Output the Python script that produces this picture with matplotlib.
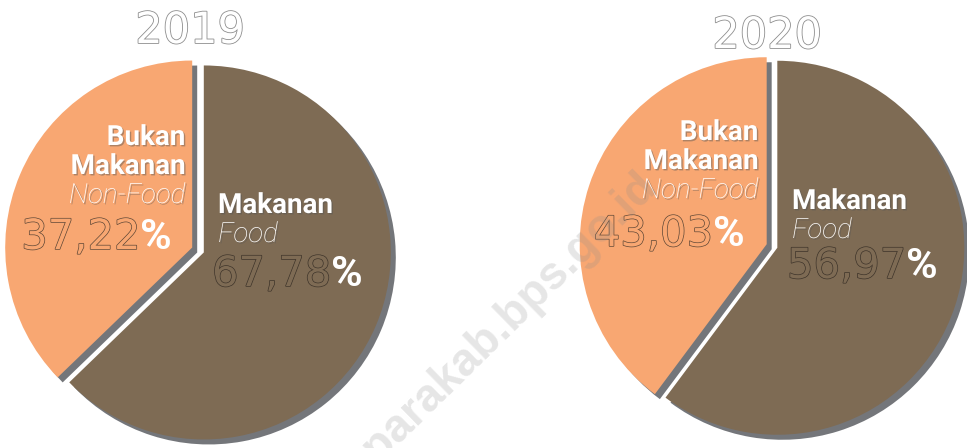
import matplotlib.pyplot as plt
import matplotlib.patheffects as pe

# --- data (non-food slice first, food slice second) ---
years = ["2019", "2020"]
category_id = ["Bukan\nMakanan", "Makanan"]
category_en = ["Non-Food", "Food"]
# slice sizes as drawn in the source graphic
shares_2019 = [37.22, 62.78]
shares_2020 = [39.8, 60.2]
# percentage texts as printed
pct_2019 = ["37,22", "67,78"]
pct_2020 = ["43,03", "56,97"]
watermark = "jeparakab.bps.go.id"

ORANGE = "#f8a772"
BROWN = "#7e6b54"
SHADOW = "#74767a"
H = 448


def yy(y_img):
    # image pixel row -> axes y (y up)
    return H - y_img


fig = plt.figure(figsize=(9.67, 4.48), dpi=100)
ax = fig.add_axes([0, 0, 1, 1])

layouts = [
    dict(center=(198, 250), explode=6.3, title_x=190, title_y=43,
         left_x=185, pct_left_x=172, right_x=218, pct_right_x=212,
         top_y=145, pct_left_y=258, right_y=213, pct_right_y=295),
    dict(center=(772, 246), explode=5.6, title_x=767, title_y=48,
         left_x=758, pct_left_x=745, right_x=792, pct_right_x=787,
         top_y=140, pct_left_y=255, right_y=209, pct_right_y=287),
]
all_shares = [shares_2019, shares_2020]
all_pcts = [pct_2019, pct_2020]

R = 187
bold_fx = [pe.withSimplePatchShadow(offset=(1, -1), shadow_rgbFace="#555555", alpha=0.45)]

for year, shares, pcts, lay in zip(years, all_shares, all_pcts, layouts):
    cx, cy = lay["center"][0], yy(lay["center"][1])
    ex = lay["explode"]
    # drop shadow pie, then the coloured pie on top
    ax.pie(shares, colors=[SHADOW, SHADOW], startangle=90, radius=R,
           center=(cx + 5, cy - 5), explode=[ex, ex],
           wedgeprops={"linewidth": 0})
    ax.pie(shares, colors=[ORANGE, BROWN], startangle=90, radius=R,
           center=(cx, cy), explode=[ex, ex],
           wedgeprops={"linewidth": 0})

    # year title (outlined)
    ax.text(lay["title_x"], yy(lay["title_y"]), year, ha="center", va="baseline",
            fontsize=31, family="DejaVu Sans", color="white",
            path_effects=[pe.withStroke(linewidth=1.2, foreground="#8e8e8e")])

    # non-food labels (right aligned)
    y0 = lay["top_y"]
    for i, line in enumerate(category_id[0].split("\n")):
        ax.text(lay["left_x"], yy(y0 + 29 * i), line, ha="right", va="baseline",
                fontsize=20, family="Roboto", fontweight="bold", color="white",
                path_effects=bold_fx)
    ax.text(lay["left_x"], yy(y0 + 58), category_en[0], ha="right", va="baseline",
            fontsize=20, family="Roboto", fontweight="light", style="italic",
            color="white", path_effects=bold_fx)
    pct_sign = ax.text(lay["pct_left_x"], yy(lay["pct_left_y"]), "%", ha="right",
                       va="bottom", fontsize=31, family="Roboto", fontweight="bold",
                       color="white")
    ax.annotate(pcts[0], xy=(0, 0), xycoords=pct_sign, ha="right", va="bottom",
                fontsize=30, family="DejaVu Sans", color=ORANGE,
                path_effects=[pe.withStroke(linewidth=1.0, foreground="#5e4736")])

    # food labels (left aligned)
    ax.text(lay["right_x"], yy(lay["right_y"]), category_id[1], ha="left",
            va="baseline", fontsize=20, family="Roboto", fontweight="bold",
            color="white", path_effects=bold_fx)
    ax.text(lay["right_x"], yy(lay["right_y"] + 29), category_en[1], ha="left",
            va="baseline", fontsize=20, family="Roboto", fontweight="light",
            style="italic", color="white", path_effects=bold_fx)
    num = ax.text(lay["pct_right_x"], yy(lay["pct_right_y"]), pcts[1], ha="left",
                  va="bottom", fontsize=30, family="DejaVu Sans", color=BROWN,
                  path_effects=[pe.withStroke(linewidth=1.0, foreground="#3e342a")])
    ax.annotate("%", xy=(1, 0), xycoords=num, ha="left", va="bottom",
                fontsize=31, family="Roboto", fontweight="bold", color="white")

# faint diagonal site watermark
ax.text(660, yy(190), watermark, rotation=44.4, rotation_mode="anchor",
        ha="right", va="baseline", fontsize=33, family="Liberation Sans",
        fontweight="bold", color="#8c8c8c", alpha=0.22, zorder=10)

ax.set_xlim(0, 967)
ax.set_ylim(0, H)
ax.axis("off")
fig.savefig("out.png", dpi=100, facecolor="white")
